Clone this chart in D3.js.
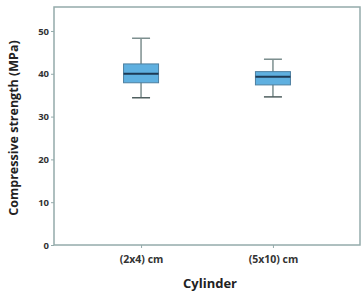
<!DOCTYPE html>
<html>
<head>
<meta charset="utf-8">
<script src="https://cdn.jsdelivr.net/npm/d3@7"></script>
<style>
  body { margin: 0; background: #fff; }
  text { font-family: "Open Sans", sans-serif; }
</style>
</head>
<body>
<svg id="svg"></svg>
<script>
// data
const categories = ["(2x4) cm", "(5x10) cm"];
const whiskerLow = [34.4, 34.6];
const q1 = [37.9, 37.4];
const median = [40.0, 39.3];
const q3 = [42.3, 40.5];
const whiskerHigh = [48.3, 43.4];
const yTicks = [0, 10, 20, 30, 40, 50];

const width = 363, height = 293;
const margin = {top: 7, right: 3, bottom: 48, left: 54};
const frameColor = "#94abab";

const svg = d3.select("#svg").attr("width", width).attr("height", height);

const x = d3.scalePoint()
    .domain(categories)
    .range([margin.left, width - margin.right])
    .padding(0.66);

const y = d3.scaleLinear()
    .domain([0, 55.6])
    .range([height - margin.bottom, margin.top]);

// frame
svg.append("rect")
    .attr("x", margin.left)
    .attr("y", margin.top)
    .attr("width", width - margin.left - margin.right)
    .attr("height", height - margin.top - margin.bottom)
    .attr("fill", "none")
    .attr("stroke", frameColor)
    .attr("stroke-width", 1.5);

// y axis
let yAxis = svg.append("g")
    .attr("transform", `translate(${margin.left},0)`)
    .call(d3.axisLeft(y).tickValues(yTicks).tickSize(3).tickPadding(2));
yAxis.select(".domain").remove();
yAxis.selectAll("line").attr("stroke", frameColor);
yAxis.selectAll("text")
    .attr("font-family", "Open Sans, sans-serif")
    .attr("font-size", 9.5)
    .attr("font-weight", "bold")
    .attr("fill", "#333");

// x axis
let xAxis = svg.append("g")
    .attr("transform", `translate(0,${height - margin.bottom})`)
    .call(d3.axisBottom(x).tickSize(3).tickPadding(8));
xAxis.select(".domain").remove();
xAxis.selectAll("line").attr("stroke", frameColor);
xAxis.selectAll("text")
    .attr("font-family", "Open Sans, sans-serif")
    .attr("font-size", 10.5)
    .attr("font-weight", "bold")
    .attr("fill", "#333");

// axis titles
svg.append("text")
    .attr("transform", `translate(18,${(margin.top + height - margin.bottom) / 2 + 2}) rotate(-90)`)
    .attr("text-anchor", "middle")
    .attr("font-size", 12.5)
    .attr("font-weight", "bold")
    .attr("fill", "#222")
    .text("Compressive strength (MPa)");

svg.append("text")
    .attr("x", (margin.left + width - margin.right) / 2 + 3)
    .attr("y", 288)
    .attr("text-anchor", "middle")
    .attr("font-size", 13)
    .attr("font-weight", "bold")
    .attr("fill", "#222")
    .text("Cylinder");

// boxes
const boxW = 35, capW = 18;
let boxes = svg.selectAll("g.box")
    .data(categories)
    .enter()
    .append("g")
    .attr("class", "box");

boxes.append("line")
    .attr("x1", d => x(d)).attr("x2", d => x(d))
    .attr("y1", (d, i) => y(whiskerLow[i]))
    .attr("y2", (d, i) => y(whiskerHigh[i]))
    .attr("stroke", "#7d8f8f")
    .attr("stroke-width", 1.5);

boxes.append("line")
    .attr("x1", d => x(d) - capW / 2).attr("x2", d => x(d) + capW / 2)
    .attr("y1", (d, i) => y(whiskerHigh[i])).attr("y2", (d, i) => y(whiskerHigh[i]))
    .attr("stroke", "#7d8f8f")
    .attr("stroke-width", 1.5);

boxes.append("line")
    .attr("x1", d => x(d) - capW / 2).attr("x2", d => x(d) + capW / 2)
    .attr("y1", (d, i) => y(whiskerLow[i])).attr("y2", (d, i) => y(whiskerLow[i]))
    .attr("stroke", "#4f5f5f")
    .attr("stroke-width", 1.5);

boxes.append("rect")
    .attr("x", d => x(d) - boxW / 2)
    .attr("width", boxW)
    .attr("y", (d, i) => y(q3[i]))
    .attr("height", (d, i) => y(q1[i]) - y(q3[i]))
    .attr("fill", "#5fb0e0")
    .attr("stroke", "#4d7fa0")
    .attr("stroke-width", 1);

boxes.append("line")
    .attr("x1", d => x(d) - boxW / 2).attr("x2", d => x(d) + boxW / 2)
    .attr("y1", (d, i) => y(median[i])).attr("y2", (d, i) => y(median[i]))
    .attr("stroke", "#1d3a55")
    .attr("stroke-width", 2);
</script>
</body>
</html>
